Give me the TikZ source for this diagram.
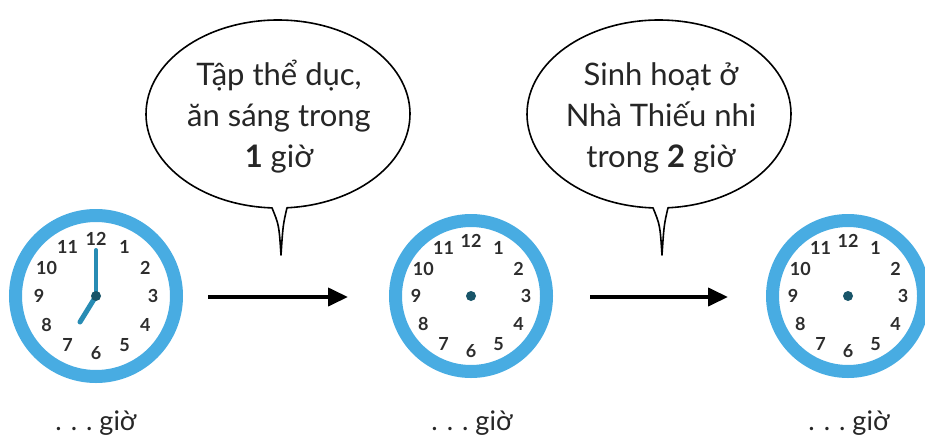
\documentclass[tikz,border=0pt]{standalone}
\usepackage{fontspec}
\setmainfont{Lato}
\usetikzlibrary{arrows.meta,calc}
\definecolor{ringblue}{RGB}{72,172,226}
\definecolor{handblue}{RGB}{40,140,180}
\definecolor{hubteal}{RGB}{25,85,105}
\definecolor{numgray}{RGB}{45,45,45}
\tikzset{
  ring/.style={circle,draw=ringblue,fill=white,inner sep=0pt,line width=13pt},
  num/.style={font=\fontsize{18}{18}\selectfont\bfseries,text=numgray,inner sep=0pt},
  hub/.style={circle,fill=hubteal,inner sep=0pt,minimum size=10pt},
  hand/.style={draw=handblue,line cap=round},
  bubble/.style={draw=black,line width=1.6pt,fill=white,line join=round},
  btext/.style={font=\fontsize{31}{31}\selectfont,text=black!85,inner sep=0pt,anchor=base},
  lbl/.style={font=\fontsize{27}{27}\selectfont,text=black!85,inner sep=0pt,anchor=base},
  flow/.style={line width=4pt,-{Triangle[length=20pt,width=18pt]}}
}
\begin{document}
\begin{tikzpicture}[x=1pt,y=-1pt]
\useasboundingbox (0,0) rectangle (925,444);
% clocks
\node[ring,minimum size=161pt] (c1) at (96,296) {};
\node[ring,minimum size=151pt] (c2) at (471,296) {};
\node[ring,minimum size=151pt] (c3) at (848,296) {};
\foreach \c/\r in {c1/57,c2/55,c3/55}{
  \foreach \n in {1,...,12}{
    \node[num] (\c n\n) at ($(\c)+({-90+30*\n}:\r)$) {\n};
  }
}
% hands of clock 1
\coordinate (m1) at (96,250);
\coordinate (h1) at (80,322);
\draw[hand,line width=4pt] (c1.center) -- (m1);
\draw[hand,line width=5pt] (c1.center) -- (h1);
\node[hub] (hub1) at (c1) {};
\node[hub] (hub2) at (c2) {};
\node[hub] (hub3) at (c3) {};
% bubbles
\draw[bubble] ({278+132*cos(92.6)},{114+94*sin(92.6)})
  arc[start angle=92.6,end angle=446.1,x radius=132,y radius=94]
  .. controls (283,225) .. (281,255) .. controls (279,225) .. cycle;
\draw[bubble] ({659+132*cos(92.6)},{114+94*sin(92.6)})
  arc[start angle=92.6,end angle=446.1,x radius=132,y radius=94]
  .. controls (664,225) .. (662,255) .. controls (660,225) .. cycle;
\node[btext] (b1a) at (279,85) {Tập thể dục,};
\node[btext] (b1b) at (279,126) {ăn sáng trong};
\node[btext] (b1c) at (279,167) {\textbf{1} giờ};
\node[btext] (b2a) at (661,85) {Sinh hoạt ở};
\node[btext] (b2b) at (661,126) {Nhà Thiếu nhi};
\node[btext] (b2c) at (661,167) {trong \textbf{2} giờ};
% arrows
\coordinate (a1s) at (208,297);
\coordinate (a1e) at (348,297);
\coordinate (a2s) at (590,297);
\coordinate (a2e) at (728,297);
\draw[flow] (a1s) -- (a1e);
\draw[flow] (a2s) -- (a2e);
% labels
\node[lbl] (l1) at (96,430) {.\,\,.\,\,.\ giờ};
\node[lbl] (l2) at (472,430) {.\,\,.\,\,.\ giờ};
\node[lbl] (l3) at (849,430) {.\,\,.\,\,.\ giờ};
\end{tikzpicture}
\end{document}
